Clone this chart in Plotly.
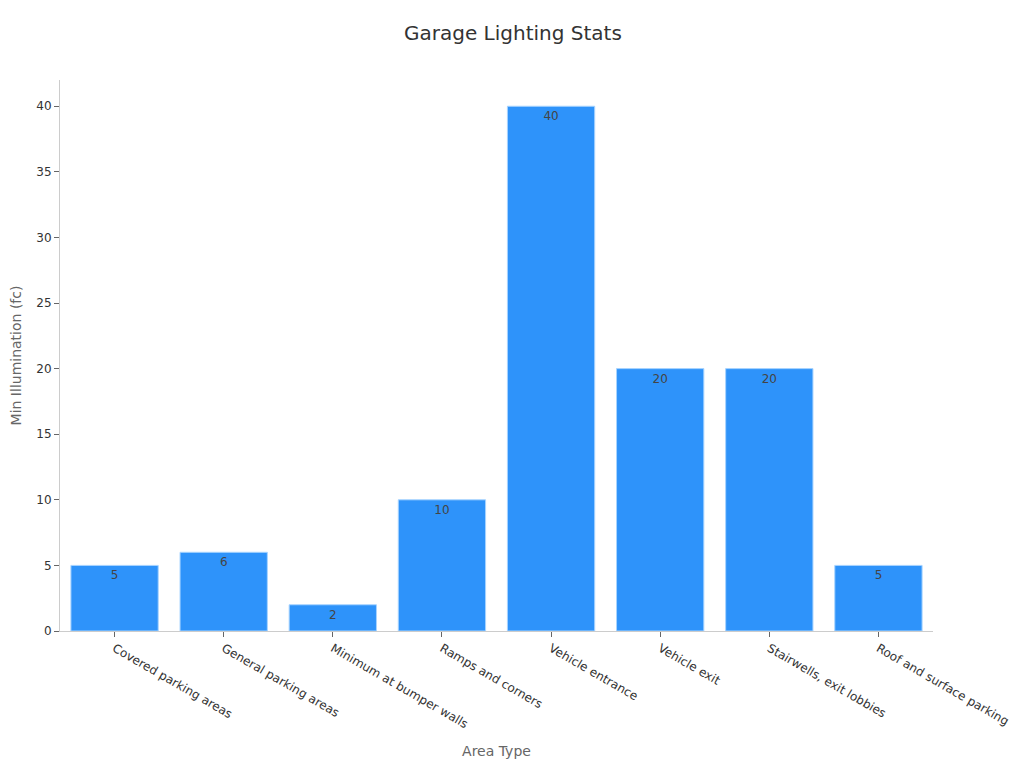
import plotly.graph_objects as go

areas = ['Covered parking areas', 'General parking areas', 'Minimum at bumper walls',
         'Ramps and corners', 'Vehicle entrance', 'Vehicle exit',
         'Stairwells, exit lobbies', 'Roof and surface parking']
min_fc = [5, 6, 2, 10, 40, 20, 20, 5]

fig = go.Figure()
fig.add_trace(go.Bar(
    x=areas, y=min_fc,
    text=min_fc, textposition='inside', insidetextanchor='end',
    textfont=dict(color='#444', size=12),
    marker=dict(color='#2E93FA', line=dict(color='#A8D4FF', width=1)),
))

# page has 8px body margin, so the figure is shrunk to fit the window
fig.update_layout(
    width=1016, height=760,
    title=dict(text='Garage Lighting Stats', x=0.497, xanchor='center',
               y=0.967, yanchor='middle', font=dict(size=20, color='#333')),
    font=dict(family='DejaVu Sans', size=12, color='#333'),
    plot_bgcolor='white', paper_bgcolor='white',
    margin=dict(l=52, r=91, t=72, b=137),
    bargap=0.2,
    showlegend=False,
    xaxis=dict(title=dict(text='Area Type', font=dict(color='#666', size=14)),
               tickangle=30, showline=True, linecolor='#ccc', ticks='outside',
               tickcolor='#666', ticklen=5, showgrid=False, automargin=False),
    yaxis=dict(title=dict(text='Min Illumination (fc)', font=dict(color='#666', size=14)),
               range=[0, 42], dtick=5, showline=True, linecolor='#ccc', ticks='outside',
               tickcolor='#666', ticklen=5, showgrid=False, zeroline=False,
               automargin=False),
)

fig.write_html("out.html")
